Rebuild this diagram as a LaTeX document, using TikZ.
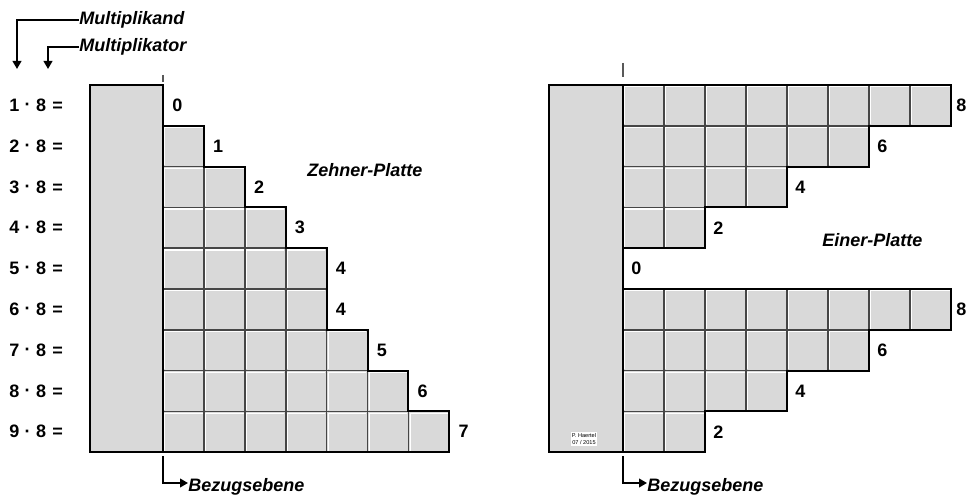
\documentclass[tikz,border=0pt]{standalone}
\usepackage{fontspec}
\setmainfont{Liberation Sans}
\usetikzlibrary{arrows.meta}
\definecolor{platefill}{RGB}{217,217,217}
\definecolor{gridline}{RGB}{70,70,70}
\tikzset{
  lbl/.style={font=\fontsize{13.5}{16}\selectfont\bfseries, inner sep=0pt},
  title/.style={font=\fontsize{13.5}{16}\selectfont\bfseries\itshape, inner sep=0pt},
  outline/.style={draw=black, line width=1.5pt, line join=miter},
  cellline/.style={draw=gridline, line width=1.3pt},
  highlight/.style={draw=white, line width=0.9pt},
  conn/.style={draw=black, line width=1.4pt},
  arr/.style={conn, -{Triangle[length=6pt,width=6.5pt]}},
}
\begin{document}
\begin{tikzpicture}[x=0.75pt,y=-0.75pt]
\useasboundingbox (0,0) rectangle (966,495);
% ---------------- left plate (Zehner) ----------------
\fill[platefill] (90,85) -- (163,85) -- (163,125.8) -- (203.9,125.8) -- (203.9,166.6) -- (244.8,166.6) -- (244.8,207.4) -- (285.7,207.4) -- (285.7,248.2) -- (326.6,248.2) -- (326.6,329.8) -- (367.5,329.8) -- (367.5,370.6) -- (408.4,370.6) -- (408.4,411.4) -- (449.3,411.4) -- (449.3,452.2) -- (90,452.2) -- cycle;
\foreach \n [count=\r from 0] in {0,1,2,3,4,4,5,6,7} {
  \ifnum\n>0
  \foreach \k in {1,...,\n} {
    \pgfmathsetmacro\xa{163+(\k-1)*40.9}
    \pgfmathsetmacro\ya{85+\r*40.8}
    \draw[cellline] (\xa,\ya) rectangle ++(40.9,40.8);
    \draw[highlight] ({\xa+1.7},{\ya+39.5}) -- ({\xa+1.7},{\ya+1.7}) -- ({\xa+39.6},{\ya+1.7});
  }
  \fi
}
\draw[outline] (90,85) -- (163,85) -- (163,125.8) -- (203.9,125.8) -- (203.9,166.6) -- (244.8,166.6) -- (244.8,207.4) -- (285.7,207.4) -- (285.7,248.2) -- (326.6,248.2) -- (326.6,329.8) -- (367.5,329.8) -- (367.5,370.6) -- (408.4,370.6) -- (408.4,411.4) -- (449.3,411.4) -- (449.3,452.2) -- (90,452.2) -- cycle;
\draw[draw=black, line width=1.2pt] (163,125.8) -- (163,452.2);
% digit labels left
\foreach \t/\xx [count=\r from 0] in {0/163,1/203.9,2/244.8,3/285.7,4/326.6,4/326.6,5/367.5,6/408.4,7/449.3} {
  \node[lbl, anchor=west] (zl\r) at ({\xx+9},{85+\r*40.8+20.4}) {\t};
}
% multiplication labels
\foreach \m [count=\r from 0] in {1,...,9} {
  \node[lbl, anchor=west] (eq\r) at (9,{85+\r*40.8+20.4}) {\m\hspace{0.3em}\raisebox{0.1ex}{·}\hspace{0.3em}8\hspace{0.35em}=};
}
\node[title, anchor=west] (zp) at (307,170) {Zehner-Platte};
% header arrows
\node[title, anchor=west] (mkand) at (79,20) {Multiplikand};
\node[title, anchor=west] (mkator) at (79,47) {Multiplikator};
\coordinate (mkandend) at (17,69);
\coordinate (mkatorend) at (48,69);
\draw[arr] (mkand.west) -| (mkandend);
\draw[arr] (mkator.west) -| (mkatorend);
% reference tick and Bezugsebene left
\coordinate (ltickA) at (163,75);
\coordinate (ltickB) at (163,82);
\draw[draw=gray!70!black, line width=1pt] (ltickA) -- (ltickB);
\node[title, anchor=west] (bezl) at (188,487) {Bezugsebene};
\coordinate (lbstart) at (163,456);
\draw[conn] (lbstart) |- (175,483);
\draw[arr] (175,483) -- (bezl.west |- 0,483);
% ---------------- right plate (Einer) ----------------
\fill[platefill] (549,85) -- (951,85) -- (951,125.8) -- (869,125.8) -- (869,166.6) -- (787,166.6) -- (787,207.4) -- (705,207.4) -- (705,248.2) -- (623,248.2) -- (623,289) -- (951,289) -- (951,329.8) -- (869,329.8) -- (869,370.6) -- (787,370.6) -- (787,411.4) -- (705,411.4) -- (705,452.2) -- (549,452.2) -- cycle;
\foreach \n [count=\r from 0] in {8,6,4,2,0,8,6,4,2} {
  \ifnum\n>0
  \foreach \k in {1,...,\n} {
    \pgfmathsetmacro\xa{623+(\k-1)*41}
    \pgfmathsetmacro\ya{85+\r*40.8}
    \draw[cellline] (\xa,\ya) rectangle ++(41,40.8);
    \draw[highlight] ({\xa+1.7},{\ya+39.5}) -- ({\xa+1.7},{\ya+1.7}) -- ({\xa+39.7},{\ya+1.7});
  }
  \fi
}
\draw[outline] (549,85) -- (951,85) -- (951,125.8) -- (869,125.8) -- (869,166.6) -- (787,166.6) -- (787,207.4) -- (705,207.4) -- (705,248.2) -- (623,248.2) -- (623,289) -- (951,289) -- (951,329.8) -- (869,329.8) -- (869,370.6) -- (787,370.6) -- (787,411.4) -- (705,411.4) -- (705,452.2) -- (549,452.2) -- cycle;
\draw[draw=black, line width=1.2pt] (623,85) -- (623,452.2);
\foreach \t/\xx [count=\r from 0] in {8/951,6/869,4/787,2/705,0/623,8/951,6/869,4/787,2/705} {
  \node[lbl, anchor=west] (el\r) at ({\xx+(\xx>950?5:8)},{85+\r*40.8+20.4}) {\t};
}
\node[title, anchor=west] (ep) at (822,240) {Einer-Platte};
\node[fill=white, inner sep=1pt, font=\fontsize{4.2}{4.8}\selectfont, align=center] (sig) at (584,439) {P. Haertel\\07 / 2015};
% reference tick and Bezugsebene right
\coordinate (rtickA) at (623,63);
\coordinate (rtickB) at (623,77);
\draw[draw=gray!70!black, line width=1pt] (rtickA) -- (rtickB);
\node[title, anchor=west] (bezr) at (647,487) {Bezugsebene};
\coordinate (rbstart) at (623,456);
\draw[conn] (rbstart) |- (635,483);
\draw[arr] (635,483) -- (bezr.west |- 0,483);
\end{tikzpicture}
\end{document}
